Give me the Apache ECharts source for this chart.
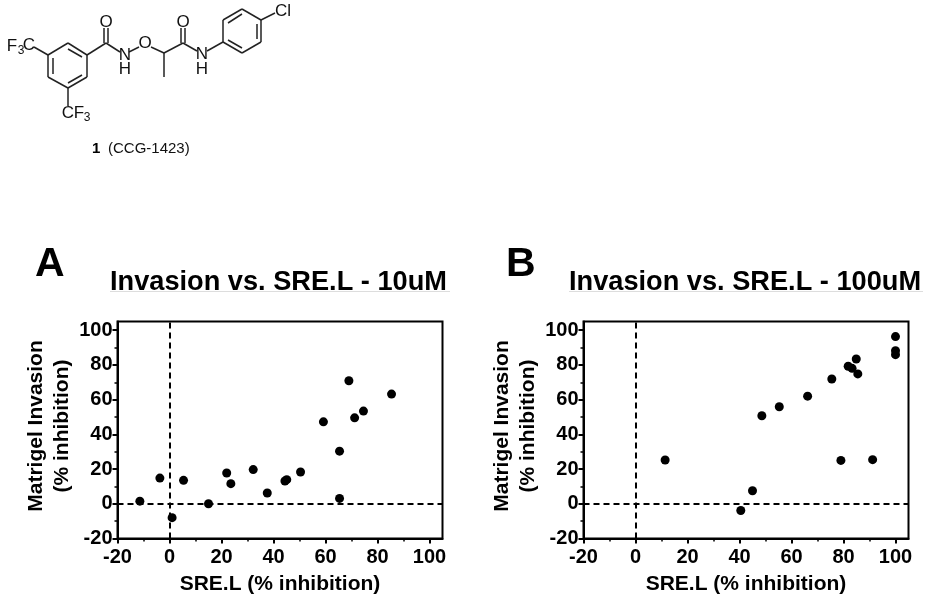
<!DOCTYPE html>
<html><head><meta charset="utf-8">
<style>html,body{margin:0;padding:0;background:#fff}#c{width:930px;height:603px}</style>
<script src="https://cdn.jsdelivr.net/npm/echarts@6/dist/echarts.min.js"></script>
</head><body><div id="c"></div>
<script>
const sreL10 = [-11.4,-3.7,1,5.4,15,22,23.6,32.2,37.6,44.4,45.1,50.4,59.2,65.4,65.4,69,71.2,74.6,85.4];
const inv10  = [1.5,14.8,-8,13.5,0,17.7,11.6,19.7,6.2,13.1,13.9,18.3,47.2,30.3,3.1,70.9,49.5,53.4,63.2];
const sreL100 = [11.4,40.5,45,48.6,55.3,66.2,75.5,79,81.8,83.3,84.9,85.5,91.2,100,100,100];
const inv100  = [25.2,-3.9,7.5,50.7,55.9,62,71.9,25,79.2,78,83.4,74.8,25.4,96.3,88.2,85.9];
const tickValues = [-20,0,20,40,60,80,100];
const xName = 'SRE.L (% inhibition)';
const yName = 'Matrigel Invasion\n(% inhibition)';
const titles = ['Invasion vs. SRE.L - 10uM','Invasion vs. SRE.L - 100uM'];

const FONT = '"Liberation Sans", Arial, sans-serif';
const grids = [
  {left:117.5, top:321.5, width:325, height:217},
  {left:583.5, top:321.5, width:325, height:217}
];
function zip(a,b){return a.map((v,i)=>[v,b[i]]);}
function axis(kind,g,name){
  return {
    type:'value', gridIndex:g, min:-20, max:105, interval:20,
    name:name, nameLocation:'middle', nameGap: kind==='x'?33:38,
    nameTextStyle:{color:'#000',fontFamily:FONT,fontWeight:'bold',fontSize:21,lineHeight:26,padding:kind==='y'?[0,0,0,8]:0},
    axisLine:{show:true,onZero:false,lineStyle:{color:'#000',width:2}},
    axisTick:{show:true,length:5,inside:false,customValues:tickValues,lineStyle:{color:'#000',width:2}},
    minorTick:{show:true,splitNumber:2,length:3,lineStyle:{color:'#000',width:1.5}},
    splitLine:{show:false}, minorSplitLine:{show:false},
    axisLabel:{color:'#000',fontFamily:FONT,fontWeight:'bold',fontSize:20,margin:kind==='x'?9:5,customValues:tickValues,hideOverlap:false}
  };
}
function series(i,data){
  return {
    type:'scatter', xAxisIndex:i, yAxisIndex:i, data:data, symbol:'circle', symbolSize:9,
    itemStyle:{color:'#000',opacity:1}, silent:true, z:5,
    markLine:{silent:true,symbol:'none',animation:false,label:{show:false},
      lineStyle:{color:'#000',type:[6,4],width:2},
      data:[{xAxis:0},{yAxis:0}]}
  };
}
// chemical structure (decorative scheme, page pixels)
const bonds = [
 [48,55,68,43],[68,43,87,55],[87,55,87,77],[87,77,68,88],[68,88,48,77],[48,77,48,55],
 [68,49,82,57],[53,58,53,74],[82,75,68,83],
 [48,55,34,47],[68,88,68,106],
 [87,55,106,43],[104,43,104,28],[108,43,108,28],[106,43,120,52],
 [129,52,139,47],[151,47,164,53],[164,53,164,77],[164,53,183,43],[181,43,181,28],[185,43,185,28],[183,43,197,51],
 [207,51,223,42],[223,42,223,20],[223,20,242,9],[242,9,261,20],[261,20,261,42],[261,42,242,53],[242,53,223,42],
 [228,23,242,14],[257,24,257,39],[228,40,242,48],[261,20,275,13]
];
const atoms = [
 ['F',12,46,17],['3',21,51,12],['C',29,45,17],['C',68,113,17],['F',79,113,17],['3',87,118,12],
 ['O',106,22,17],['N',125,55,17],['H',125,69,17],['O',145,43,17],['O',183,22,17],['N',202,54,17],['H',202,69,17],['Cl',283,11,17]
];
const graphic = [];
bonds.forEach(b=>graphic.push({type:'line',silent:true,shape:{x1:b[0],y1:b[1],x2:b[2],y2:b[3]},style:{stroke:'#222',lineWidth:1.5}}));
atoms.forEach(a=>graphic.push({type:'text',silent:true,x:a[1],y:a[2],style:{text:a[0],fill:'#111',font:a[3]+'px '+FONT,align:'center',verticalAlign:'middle'}}));
function txt(t,x,y,size,bold,fill){
  graphic.push({type:'text',silent:true,x:x,y:y,style:{text:t,fill:fill||'#000',font:(bold?'bold ':'')+size+'px '+FONT,align:'left',verticalAlign:'middle'}});
}
txt('1',92,149,15,true);
txt('(CCG-1423)',108,149,15,false,'#111');
txt('A',35,265,41,true);
txt('B',506,265,41,true);
txt(titles[0],110,283,27.2,true);
txt(titles[1],569,283,27.2,true);
graphic.push({type:'line',silent:true,shape:{x1:110,y1:291.5,x2:450,y2:291.5},style:{stroke:'#ddd',lineWidth:1}});
graphic.push({type:'line',silent:true,shape:{x1:569,y1:291.5,x2:923,y2:291.5},style:{stroke:'#ddd',lineWidth:1}});

const chart = echarts.init(document.getElementById('c'),null,{renderer:'canvas'});
chart.setOption({
  backgroundColor:'#fff', animation:false,
  grid:grids.map(g=>Object.assign({show:true,borderColor:'#000',borderWidth:2,backgroundColor:'transparent',containLabel:false},g)),
  xAxis:[axis('x',0,xName),axis('x',1,xName)],
  yAxis:[axis('y',0,yName),axis('y',1,yName)],
  series:[series(0,zip(sreL10,inv10)),series(1,zip(sreL100,inv100))],
  graphic:graphic
});
</script></body></html>
